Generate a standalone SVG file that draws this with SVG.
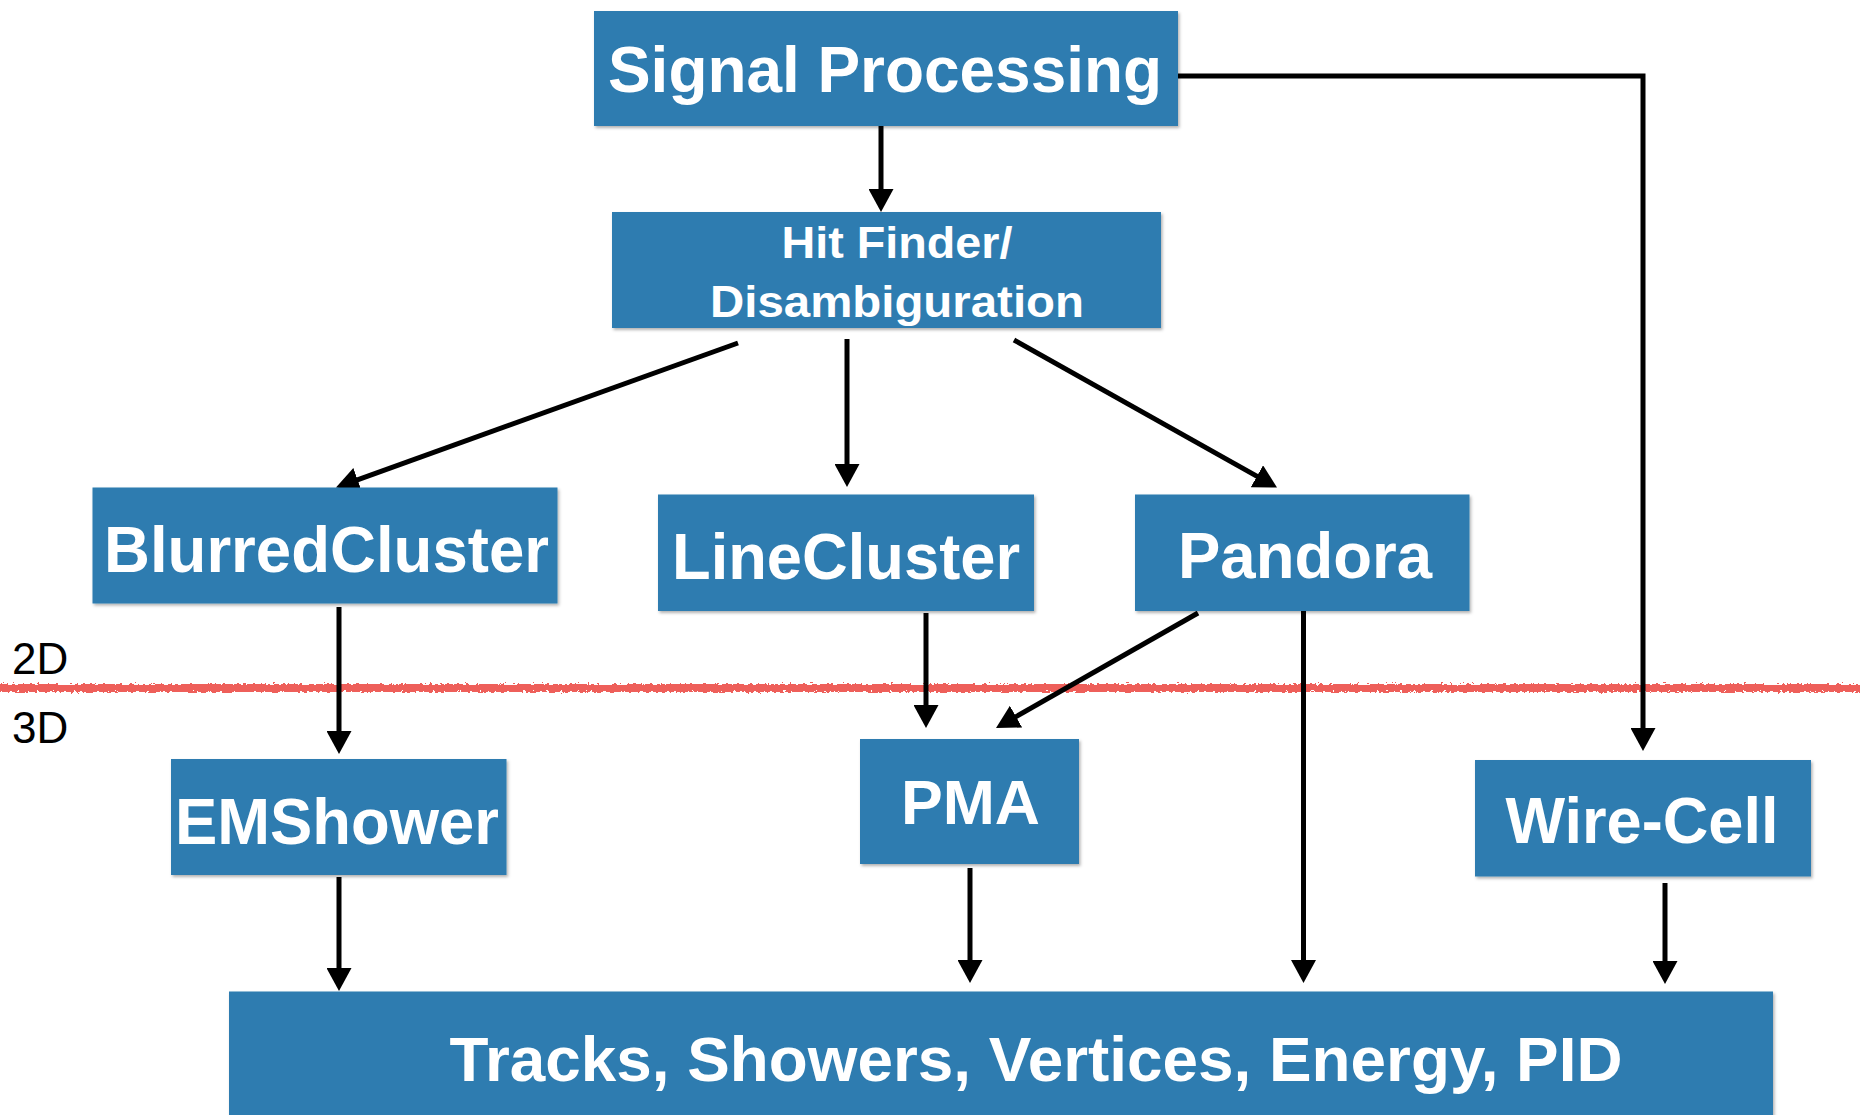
<svg xmlns="http://www.w3.org/2000/svg" width="1860" height="1115" viewBox="0 0 1860 1115">
<defs>
<style>
.box{fill:#2F7CB0;filter:url(#sh);}
.lbl{fill:#ffffff;font-family:"Liberation Sans",Arial,Helvetica,sans-serif;font-weight:bold;text-anchor:middle;}
.conn{fill:none;stroke:#000;stroke-width:5;marker-end:url(#ah);}
.dim{fill:#000;font-family:"Liberation Sans",Arial,Helvetica,sans-serif;font-size:44px;}
</style>
<filter id="sh" x="-5%" y="-5%" width="110%" height="115%">
<feDropShadow dx="1.5" dy="2" stdDeviation="1.5" flood-color="#000" flood-opacity="0.3"/>
</filter>
<filter id="rough" filterUnits="userSpaceOnUse" x="-10" y="670" width="1880" height="36">
<feTurbulence type="fractalNoise" baseFrequency="0.3 0.5" numOctaves="2" seed="3" result="n"/>
<feDisplacementMap in="SourceGraphic" in2="n" scale="6" xChannelSelector="R" yChannelSelector="G"/>
</filter>
<marker id="ah" viewBox="0 0 23 25" refX="12" refY="12.5" markerWidth="23" markerHeight="25" markerUnits="userSpaceOnUse" orient="auto">
<path d="M0,0 L23,12.5 L0,25 Z" fill="#000"/>
</marker>
</defs>
<rect width="1860" height="1115" fill="#ffffff"/>

<g id="divider">
<rect x="-5" y="684" width="1870" height="8" fill="#EE5F5A" filter="url(#rough)"/>
<text class="dim" x="12" y="674">2D</text>
<text class="dim" x="12" y="743">3D</text>
</g>

<g id="connectors">
<line class="conn" x1="881" y1="126" x2="881" y2="201"/>
<path class="conn" d="M1178,76 H1643 V740"/>
<line class="conn" x1="738" y1="343" x2="346.3" y2="483.8"/>
<line class="conn" x1="847" y1="339" x2="847" y2="476"/>
<line class="conn" x1="1014" y1="340" x2="1267.4" y2="482.1"/>
<line class="conn" x1="339" y1="607" x2="339" y2="743"/>
<line class="conn" x1="926" y1="613" x2="926" y2="717"/>
<line class="conn" x1="1198" y1="613" x2="1005.6" y2="722.6"/>
<line class="conn" x1="1303.5" y1="608" x2="1303.5" y2="972"/>
<line class="conn" x1="339" y1="877" x2="339" y2="980"/>
<line class="conn" x1="970" y1="868" x2="970" y2="972"/>
<line class="conn" x1="1665" y1="883" x2="1665" y2="973"/>
</g>

<g id="signal-processing">
<rect class="box" x="594" y="11" width="584" height="115"/>
<text class="lbl" x="885" y="92" font-size="65" textLength="554" lengthAdjust="spacingAndGlyphs">Signal Processing</text>
</g>
<g id="hit-finder">
<rect class="box" x="612" y="212" width="549" height="116"/>
<text class="lbl" x="897" y="258" font-size="44" textLength="231" lengthAdjust="spacingAndGlyphs">Hit Finder/</text>
<text class="lbl" x="897" y="317" font-size="44" textLength="374" lengthAdjust="spacingAndGlyphs">Disambiguration</text>
</g>
<g id="blurred-cluster">
<rect class="box" x="92.5" y="487.5" width="465" height="116"/>
<text class="lbl" x="326.5" y="572" font-size="64" textLength="445" lengthAdjust="spacingAndGlyphs">BlurredCluster</text>
</g>
<g id="line-cluster">
<rect class="box" x="658" y="494.5" width="376" height="116.5"/>
<text class="lbl" x="846" y="579" font-size="64" textLength="348" lengthAdjust="spacingAndGlyphs">LineCluster</text>
</g>
<g id="pandora">
<rect class="box" x="1135" y="494.5" width="334.5" height="116.5"/>
<text class="lbl" x="1305" y="578" font-size="64" textLength="254" lengthAdjust="spacingAndGlyphs">Pandora</text>
</g>
<g id="emshower">
<rect class="box" x="171" y="759" width="335.5" height="116"/>
<text class="lbl" x="337" y="844" font-size="64" textLength="324" lengthAdjust="spacingAndGlyphs">EMShower</text>
</g>
<g id="pma">
<rect class="box" x="860" y="739" width="219" height="125"/>
<text class="lbl" x="970.5" y="824" font-size="63" textLength="139" lengthAdjust="spacingAndGlyphs">PMA</text>
</g>
<g id="wire-cell">
<rect class="box" x="1475" y="760" width="336" height="116.5"/>
<text class="lbl" x="1642" y="843" font-size="64" textLength="273" lengthAdjust="spacingAndGlyphs">Wire-Cell</text>
</g>
<g id="output">
<rect class="box" x="229" y="991.5" width="1544" height="140"/>
<text class="lbl" x="1036" y="1081" font-size="63" textLength="1173" lengthAdjust="spacingAndGlyphs">Tracks, Showers, Vertices, Energy, PID</text>
</g>
</svg>
